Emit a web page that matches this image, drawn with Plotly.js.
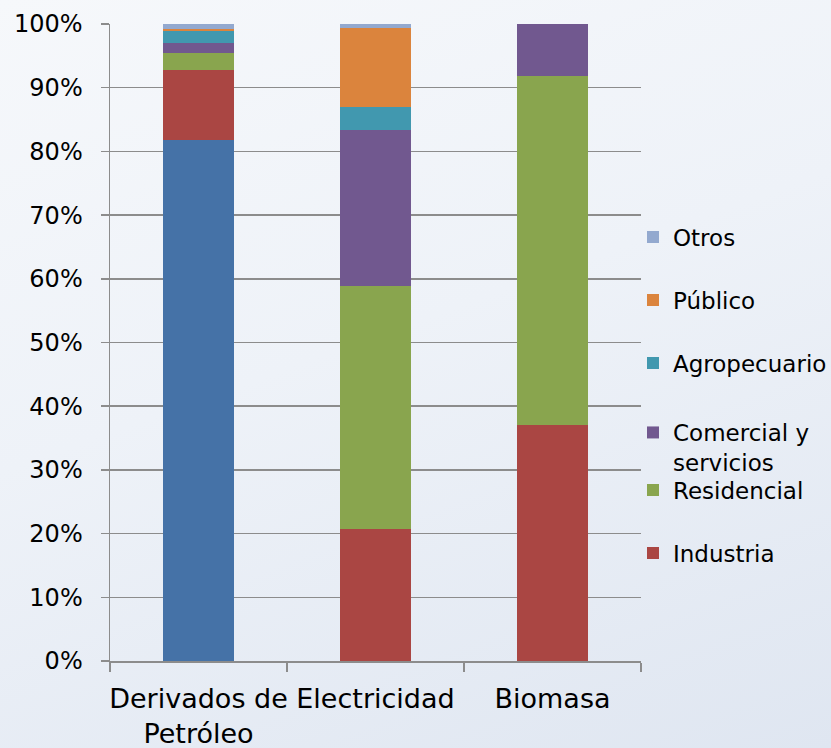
<!DOCTYPE html>
<html>
<head>
<meta charset="utf-8">
<script src="https://cdn.plot.ly/plotly-3.0.1.min.js"></script>
<style>
  html, body { margin:0; padding:0; }
  body { width:831px; height:748px; background: linear-gradient(160deg, #f6f8fb 0%, #eef2f8 45%, #dfe6f1 100%); }
  #chart { width:831px; height:748px; }
</style>
</head>
<body>
<div id="chart"></div>
<script>
const categories = ["Derivados de<br>Petróleo", "Electricidad", "Biomasa"];
const transporte   = [81.8, 0, 0];
const industria    = [11.0, 20.7, 37.0];
const residencial  = [2.6, 38.2, 54.8];
const comercial    = [1.6, 24.5, 8.2];
const agropecuario = [1.95, 3.6, 0];
const publico      = [0.25, 12.3, 0];
const otros        = [0.8, 0.7, 0];

const seriesNames  = ["Transporte", "Industria", "Residencial", "Comercial y<br>servicios", "Agropecuario", "Público", "Otros"];
const seriesValues = [transporte, industria, residencial, comercial, agropecuario, publico, otros];
const colors = ["#4572a7", "#aa4643", "#89a54e", "#71588f", "#4198af", "#db843d", "#93a9cf"];
const legendIds = [null, "legend", "legend2", "legend3", "legend4", "legend5", "legend6"];
const legendY = [null, 553, 490, 427, 363, 300, 237];

const FONT = "DejaVu Sans, sans-serif";
const H = 748, T = 24, B = 87;
const plotH = H - T - B;

const traces = seriesValues.map((vals, i) => ({
  type: "bar",
  name: seriesNames[i],
  x: categories,
  y: vals,
  marker: { color: colors[i], line: { width: 0 } },
  showlegend: i > 0,
  legend: legendIds[i] || "legend",
  hoverinfo: "name+y"
}));

const layout = {
  width: 831, height: 748,
  paper_bgcolor: "rgba(0,0,0,0)",
  plot_bgcolor: "rgba(0,0,0,0)",
  barmode: "stack",
  bargap: 0.6,
  margin: { l: 110, r: 190, t: T, b: B, pad: 0, autoexpand: false },
  font: { family: FONT, size: 23, color: "#000" },
  xaxis: {
    showline: true, linecolor: "#8c8c8c", linewidth: 1.5,
    ticks: "outside", ticklen: 9, tickcolor: "#8c8c8c", tickwidth: 1.5,
    tickson: "boundaries",
    tickangle: 0,
    tickfont: { family: FONT, size: 27 },
    ticklabelstandoff: 13,
    showgrid: false
  },
  yaxis: {
    range: [0, 100],
    tickvals: [0,10,20,30,40,50,60,70,80,90,100],
    ticktext: ["0%","10%","20%","30%","40%","50%","60%","70%","80%","90%","100%"],
    showline: true, linecolor: "#8c8c8c", linewidth: 1.5,
    ticks: "outside", ticklen: 8, tickcolor: "#8c8c8c", tickwidth: 1.5,
    showgrid: true, gridcolor: "#8c8c8c", gridwidth: 1.5,
    zeroline: false,
    ticklabelstandoff: 13,
    tickfont: { family: FONT, size: 24 }
  }
};

for (let i = 1; i < legendIds.length; i++) {
  layout[legendIds[i]] = {
    x: 1.0 - (641 - 633) / 531,
    xanchor: "left",
    y: (H - B - legendY[i]) / plotH,
    yanchor: i === 3 ? "top" : "middle",
    bgcolor: "rgba(0,0,0,0)",
    borderwidth: 0,
    font: { family: FONT, size: 23, color: "#000" },
    itemwidth: 30,
    valign: "top"
  };
}
layout.legend3.y = (H - B - (427 - 16)) / plotH;

Plotly.newPlot("chart", traces, layout, { displayModeBar: false, staticPlot: true });
</script>
</body>
</html>
